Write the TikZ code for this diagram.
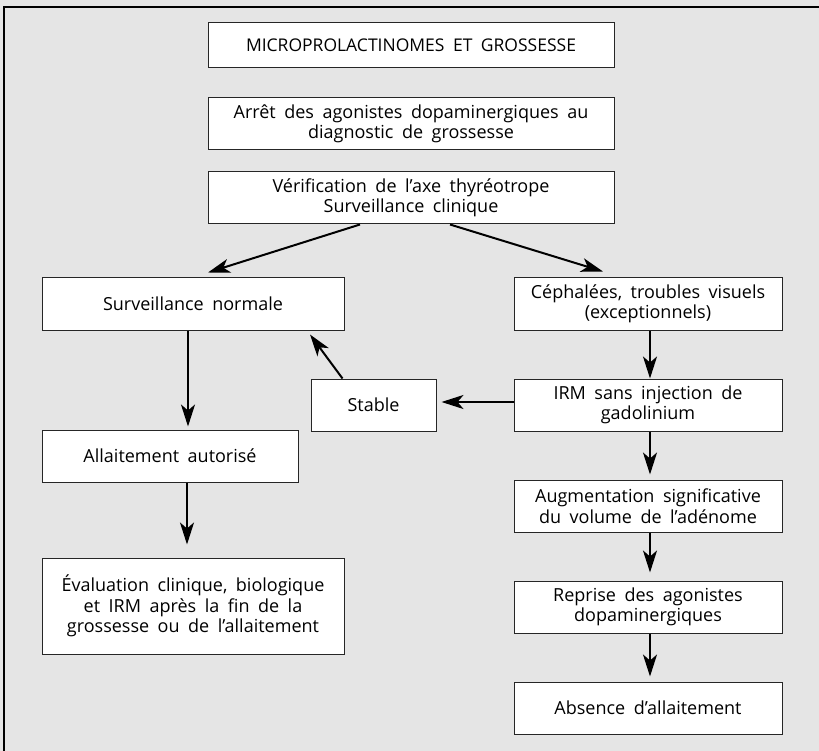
\documentclass[tikz,border=0pt]{standalone}
\usepackage{fontspec}
\setmainfont{Open Sans}
\usetikzlibrary{arrows.meta}
\newcommand\boxfont{\fontsize{18}{20.5}\selectfont\spaceskip=8.5pt plus 2pt minus 1pt\relax}

\begin{document}
\begin{tikzpicture}[x=1pt,y=-1pt,
  box/.style={draw=black!85,fill=white,line width=1pt,minimum height=52pt,align=center,inner sep=1pt,font=\boxfont},
  arr/.style={-{Stealth[length=22pt,width=14pt,inset=6pt]},line width=2pt}]

% fond et cadre
\fill[gray!20] (0,0) rectangle (819,751);
\useasboundingbox (0,0) rectangle (819,751);
\draw[line width=1.5pt] (4,751) -- (4,7) -- (819,7);

% colonne centrale
\node[box,minimum width=406pt,minimum height=45pt,font=\boxfont\fontsize{17.5}{20.5}\selectfont] (titre) at (411,45.5) {MICROPROLACTINOMES ET GROSSESSE};
\node[box,minimum width=406pt] (arret) at (411,124) {Arrêt des agonistes dopaminergiques au\\diagnostic de grossesse};
\node[box,minimum width=406pt] (verif) at (411,198) {Vérification de l’axe thyréotrope\\Surveillance clinique};

% branche gauche
\node[box,minimum width=302pt] (survn) at (193,304) {Surveillance normale};
\node[box,minimum width=256pt] (allait) at (170,456) {Allaitement autorisé};
\node[box,minimum width=302pt,minimum height=96pt] (evalu) at (193,606) {Évaluation clinique, biologique\\et IRM après la fin de la\\grossesse ou de l’allaitement};
\node[box,minimum width=125pt] (stable) at (373.5,405) {Stable};

% branche droite
\node[box,minimum width=268pt] (ceph) at (648,304) {Céphalées, troubles visuels\\(exceptionnels)};
\node[box,minimum width=268pt] (irm) at (648,405) {IRM sans injection de\\gadolinium};
\node[box,minimum width=268pt] (augm) at (648,506) {Augmentation significative\\du volume de l’adénome};
\node[box,minimum width=268pt] (repr) at (648,607) {Reprise des agonistes\\dopaminergiques};
\node[box,minimum width=268pt] (absal) at (648,708) {Absence d’allaitement};

% fleches
\draw[arr] ([xshift=-51pt]verif.south) -- ([xshift=15pt,yshift=5pt]survn.north);
\draw[arr] ([xshift=39pt]verif.south) -- ([xshift=-45pt,yshift=6pt]ceph.north);
\draw[arr] ([xshift=-5pt]survn.south) -- ([xshift=-5pt,yshift=3pt]survn.south |- allait.north);
\draw[arr] ([xshift=17pt]allait.south) -- ([xshift=17pt,yshift=13pt]allait.south |- evalu.north);
\draw[arr] ([xshift=-31pt]stable.north) -- ([xshift=117pt,yshift=-4pt]survn.south);
\draw[arr] ([xshift=2pt]ceph.south) -- ([xshift=2pt]irm.north);
\draw[arr] ([yshift=3pt]irm.west) -- ([xshift=5pt,yshift=3pt]stable.east);
\draw[arr] ([xshift=2pt]irm.south) -- ([xshift=2pt,yshift=5pt]augm.north);
\draw[arr] ([xshift=2pt]augm.south) -- ([xshift=2pt,yshift=8pt]repr.north);
\draw[arr] ([xshift=2pt]repr.south) -- ([xshift=2pt,yshift=5pt]absal.north);

\end{tikzpicture}
\end{document}
